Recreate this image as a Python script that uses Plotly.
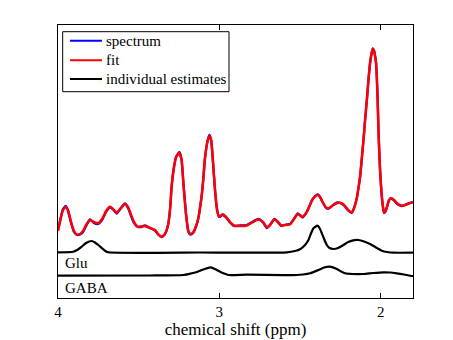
import plotly.graph_objects as go

# chemical shift axis (ppm) shared by spectrum and fit
ppm = [4.000, 3.988, 3.969, 3.952, 3.938, 3.919, 3.901, 3.882, 3.864, 3.845,
       3.826, 3.802, 3.777, 3.752, 3.727, 3.702, 3.678, 3.659, 3.636, 3.616,
       3.585, 3.566, 3.547, 3.529, 3.506, 3.485, 3.461, 3.430, 3.399, 3.380,
       3.357, 3.337, 3.318, 3.306, 3.295, 3.281, 3.268, 3.248, 3.234, 3.223,
       3.206, 3.192, 3.179, 3.163, 3.144, 3.130, 3.120, 3.109, 3.099, 3.089,
       3.073, 3.062, 3.051, 3.039, 3.027, 3.014, 3.002, 2.979, 2.958, 2.934,
       2.909, 2.872, 2.830, 2.797, 2.758, 2.729, 2.706, 2.686, 2.659, 2.636,
       2.617, 2.586, 2.562, 2.537, 2.514, 2.485, 2.462, 2.444, 2.425, 2.407,
       2.390, 2.376, 2.357, 2.339, 2.320, 2.295, 2.270, 2.252, 2.227, 2.202,
       2.179, 2.165, 2.148, 2.137, 2.128, 2.117, 2.107, 2.097, 2.086, 2.076,
       2.066, 2.056, 2.049, 2.041, 2.035, 2.029, 2.020, 2.014, 2.009, 2.004,
       1.993, 1.985, 1.979, 1.970, 1.960, 1.948, 1.936, 1.917, 1.898, 1.869,
       1.849, 1.824, 1.801]

fit_amp = [67, 76, 88, 91, 88, 76, 67, 63.5, 64, 67,
           73, 78, 76, 74.7, 79, 87, 91.3, 89, 85.3, 89,
           94, 91, 83, 76, 71.3, 71.5, 72, 70, 68, 64,
           61.3, 64, 73, 88, 113, 131, 141, 145.3, 138, 115,
           83, 67, 64, 65.3, 72, 80, 90, 103, 120, 140,
           157, 162, 158, 135, 108, 88, 81.5, 83.7, 81, 76,
           72.5, 72, 72.5, 75.5, 78.5, 76, 70.5, 73, 78.5, 76,
           72.5, 73, 73.7, 79, 84, 81.3, 85, 91, 98, 101.5,
           103, 101, 95, 90.5, 90, 93, 95, 95.3, 93, 88,
           85.7, 90, 100, 111, 121.3, 140, 158, 178, 198, 218,
           235, 245, 249, 247, 242, 235, 203, 168, 146, 128,
           101.3, 90, 85.3, 87, 92, 98, 99.7, 98, 94.5, 92.3,
           93, 94.5, 95.7]

spectrum_amp = [68, 77, 89, 92, 87, 75, 66, 63, 63.5, 66,
                72, 78.5, 75, 74, 78, 86, 91, 88.5, 84.5, 88.5,
                94.5, 90, 82, 75, 71, 71, 72.5, 70, 67.5, 63.5,
                61, 64, 73, 88, 113, 131, 141, 146, 138, 115,
                83, 66, 63.5, 65, 72, 80, 90, 103, 120, 140,
                157, 163, 158, 135, 108, 88, 81, 83, 80.5, 75.5,
                72, 72.5, 73, 76, 79, 75.5, 70, 73, 79, 75.5,
                72, 73.5, 74, 79.5, 84.5, 80.5, 85, 91, 98, 102,
                103.5, 101, 95, 90, 89.5, 93, 95.5, 95, 92.5, 87.5,
                85, 90, 100, 111, 121, 140, 158, 178, 198, 218,
                235, 245, 249.5, 247, 242, 235, 203, 168, 146, 128,
                101, 89.5, 85, 86.5, 91.5, 98, 99.5, 97.5, 94, 92,
                93, 95, 96]

glu_ppm = [4.000, 3.905, 3.876, 3.853, 3.826, 3.791, 3.771, 3.750, 3.729, 3.709,
           3.688, 3.120, 2.582, 2.531, 2.500, 2.469, 2.448, 2.431, 2.417, 2.392,
           2.379, 2.365, 2.351, 2.334, 2.317, 2.293, 2.264, 2.231, 2.202, 2.171,
           2.138, 2.103, 2.066, 2.029, 1.993, 1.960, 1.921, 1.799]
glu_amp = [45.7, 46.3, 48.5, 51.3, 55, 57, 55.5, 53, 50, 47.3,
           45.7, 45.5, 45.7, 47, 48.7, 53, 58, 65, 69.7, 72.3,
           70, 64.7, 59, 53, 50, 49, 50, 53, 56, 57.7,
           58, 56.5, 54, 50.5, 47.3, 46, 45.3, 45.3]

gaba_ppm = [4.000, 3.430, 3.223, 3.171, 3.138, 3.109, 3.082, 3.053, 3.027, 2.996,
            2.971, 2.944, 2.830, 2.520, 2.481, 2.438, 2.386, 2.351, 2.314, 2.272,
            2.245, 2.221, 2.177, 2.107, 2.047, 1.983, 1.942, 1.900, 1.855, 1.807,
            1.799]
gaba_amp = [22.3, 22.5, 23, 24.7, 26, 28, 29.5, 30.7, 29, 26.3,
            24.5, 23, 23.3, 23, 23.5, 24.7, 28, 30.5, 31.3, 29,
            26.5, 24.7, 24, 24, 25, 25.7, 25.5, 24.7, 23.5, 22,
            22]

metabolite_names = ["Glu", "GABA"]
metabolite_label_ppm = [3.972, 3.972]
metabolite_label_amp = [35, 10]

legend_names = ["spectrum", "fit", "individual estimates"]
legend_colors = ["#0000ff", "#ff0000", "black"]

x_ticks = [4, 3, 2]
x_range = [4, 1.8]
y_range = [0, 273]

FONT = "Liberation Serif"

fig = go.Figure()
fig.add_trace(go.Scatter(x=ppm, y=spectrum_amp, mode="lines", name=legend_names[0],
                         line=dict(color=legend_colors[0], width=2.3, shape="spline", smoothing=0.5)))
fig.add_trace(go.Scatter(x=ppm, y=fit_amp, mode="lines", name=legend_names[1],
                         line=dict(color=legend_colors[1], width=2.5, shape="spline", smoothing=0.5)))
fig.add_trace(go.Scatter(x=glu_ppm, y=glu_amp, mode="lines", name=legend_names[2],
                         legendgroup="est",
                         line=dict(color=legend_colors[2], width=2.2, shape="spline", smoothing=0.5)))
fig.add_trace(go.Scatter(x=gaba_ppm, y=gaba_amp, mode="lines", name=legend_names[2],
                         legendgroup="est",
                         line=dict(color=legend_colors[2], width=2.2, shape="spline", smoothing=0.5)))

for name, xp, yp in zip(metabolite_names, metabolite_label_ppm, metabolite_label_amp):
    fig.add_annotation(x=xp, y=yp, xref="x", yref="y", text=name, showarrow=False,
                       xanchor="left", yanchor="middle",
                       font=dict(family=FONT, size=15, color="black"))

# MATLAB-style legend box (compact rows), placed in plot-area fractions
box_x0, box_x1, box_y0, box_y1 = 0.0132, 0.4817, 0.7557, 0.9755
row_y = [0.9425, 0.8707, 0.8022]
fig.add_shape(type="rect", xref="paper", yref="paper",
              x0=box_x0, x1=box_x1, y0=box_y0, y1=box_y1,
              line=dict(color="black", width=1), fillcolor="white", layer="above")
for name, color, ry in zip(legend_names, legend_colors, row_y):
    fig.add_shape(type="line", xref="paper", yref="paper",
                  x0=0.0338, x1=0.1239, y0=ry, y1=ry,
                  line=dict(color=color, width=2), layer="above")
    fig.add_annotation(x=0.1296, y=ry, xref="paper", yref="paper", text=name,
                       showarrow=False, xanchor="left", yanchor="middle",
                       font=dict(family=FONT, size=15, color="black"))

fig.update_layout(
    width=445, height=332,
    margin=dict(l=50, r=40, t=17, b=42, autoexpand=False),
    paper_bgcolor="white", plot_bgcolor="white",
    font=dict(family=FONT, size=15, color="black"),
    showlegend=False,
    xaxis=dict(range=x_range, tickvals=x_ticks, ticktext=[str(t) for t in x_ticks],
               ticks="inside", ticklen=5, tickcolor="black", tickwidth=1,
               automargin=False,
               showline=True, linecolor="black", linewidth=1, mirror="ticks",
               showgrid=False, zeroline=False,
               tickfont=dict(family=FONT, size=15, color="black"),
               title=dict(text="chemical shift (ppm)", standoff=3,
                          font=dict(family=FONT, size=17, color="black"))),
    yaxis=dict(range=y_range, showticklabels=False, ticks="", automargin=False,
               showline=True, linecolor="black", linewidth=1, mirror=True,
               showgrid=False, zeroline=False),
)

fig.write_html("out.html")
